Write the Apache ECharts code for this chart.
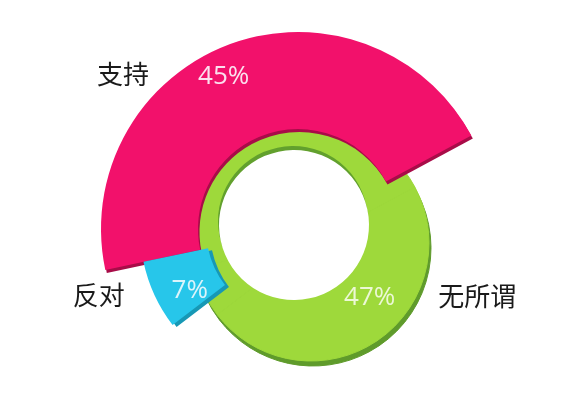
<!DOCTYPE html>
<html>
<head>
<meta charset="utf-8">
<script src="https://cdn.jsdelivr.net/npm/echarts@6/dist/echarts.min.js"></script>
<style>
html,body{margin:0;padding:0;background:#ffffff;}
#chart{width:570px;height:402px;}
</style>
</head>
<body>
<div id="chart"></div>
<script>
// ---- data ----
const categories = ['支持', '无所谓', '反对'];
const values = [45, 47, 7];
const valueLabels = ['45%', '47%', '7%'];

// ---- styles ----
const mainColors = ['#f2116b', '#9ed93b', '#27c6ea'];
const darkColors = ['#a80c48', '#5f9b2b', '#1798b5'];
const labelColors = ['#fbe0ee', '#ecf8d6', '#dcf4fb'];
const START = 192;

function dataFor(visibleIdx, opts) {
  return categories.map(function (name, i) {
    const vis = visibleIdx === null || visibleIdx === i;
    return {
      name: name,
      value: values[i],
      itemStyle: vis ? opts.style(i) : { color: 'transparent' },
      label: { show: !!opts.label && vis && opts.labelIdx === i }
    };
  });
}

const baseSeries = {
  type: 'pie',
  startAngle: START,
  clockwise: true,
  avoidLabelOverlap: false,
  silent: true,
  animation: false,
  labelLine: { show: false },
  emphasis: { disabled: true }
};

function pctLabel(i) {
  return {
    position: 'inside',
    formatter: function (p) { return valueLabels[p.dataIndex]; },
    color: labelColors[i],
    fontFamily: 'Open Sans, Noto Sans, sans-serif',
    fontSize: 26,
    fontWeight: 'normal'
  };
}

const pctOffsets = [[-22, -10], [25, 3], [8, 8]];
const nameOffsets = [[-140, -60], [124, -18], [-107, 24]];

const chart = echarts.init(document.getElementById('chart'), null, { renderer: 'canvas' });

const option = {
  backgroundColor: '#ffffff',
  series: [
    // green ring 3D edge
    Object.assign({}, baseSeries, {
      center: [313, 248], radius: [0, 118],
      label: { show: false },
      data: dataFor(null, { style: function () { return { color: darkColors[1], borderColor: darkColors[1], borderWidth: 1 }; } })
    }),
    // green ring
    Object.assign({}, baseSeries, {
      center: [311, 243], radius: [0, 118],
      label: pctLabel(1),
      labelLayout: function (p) { return { dx: pctOffsets[p.dataIndex][0], dy: pctOffsets[p.dataIndex][1] }; },
      data: dataFor(null, { label: true, labelIdx: 1, style: function () { return { color: mainColors[1], borderColor: mainColors[1], borderWidth: 1 }; } })
    }),
    // hole
    Object.assign({}, baseSeries, {
      center: [294, 225], radius: [0, 75],
      label: { show: false },
      data: [{ value: 1, itemStyle: { color: '#ffffff', shadowColor: '#62a02d', shadowOffsetX: -1, shadowOffsetY: -4, shadowBlur: 0 } }]
    }),
    // pink
    Object.assign({}, baseSeries, {
      center: [298, 229], radius: [100, 197],
      label: pctLabel(0),
      labelLayout: function (p) { return { dx: pctOffsets[p.dataIndex][0], dy: pctOffsets[p.dataIndex][1] }; },
      data: dataFor(0, { label: true, labelIdx: 0, style: function () { return { color: mainColors[0], shadowColor: darkColors[0], shadowOffsetX: 1.5, shadowOffsetY: 3, shadowBlur: 0 }; } })
    }),
    // cyan
    Object.assign({}, baseSeries, {
      center: [298, 229], radius: [92, 158],
      label: pctLabel(2),
      labelLayout: function (p) { return { dx: pctOffsets[p.dataIndex][0], dy: pctOffsets[p.dataIndex][1] }; },
      data: dataFor(2, { label: true, labelIdx: 2, style: function () { return { color: mainColors[2], shadowColor: darkColors[2], shadowOffsetX: 4, shadowOffsetY: 2, shadowBlur: 0 }; } })
    }),
    // category names
    Object.assign({}, baseSeries, {
      center: [298, 229], radius: [0, 197],
      label: {
        show: true, position: 'inside', formatter: '{b}',
        color: '#1a1a1a', fontFamily: 'Noto Sans CJK SC', fontSize: 26
      },
      labelLayout: function (p) { return { dx: nameOffsets[p.dataIndex][0], dy: nameOffsets[p.dataIndex][1] }; },
      data: categories.map(function (name, i) {
        return { name: name, value: values[i], itemStyle: { color: 'transparent' } };
      })
    })
  ]
};

chart.setOption(option);
</script>
</body>
</html>
